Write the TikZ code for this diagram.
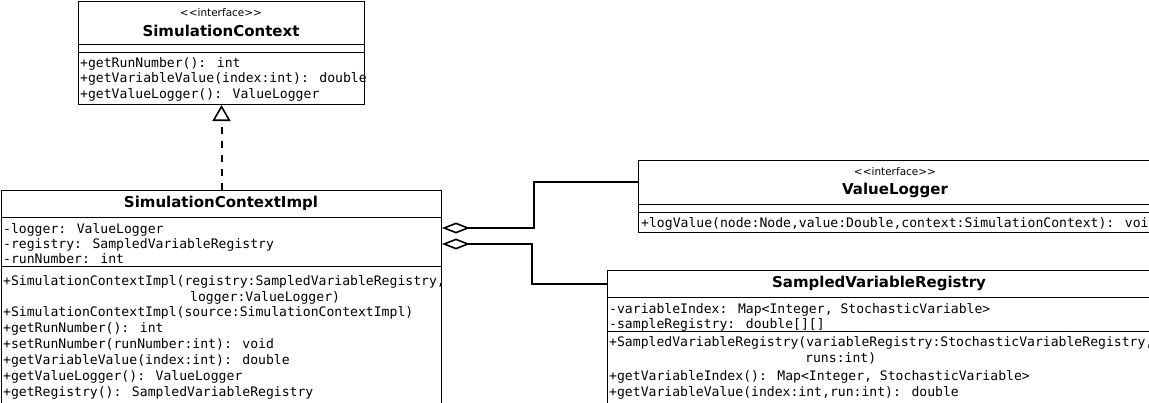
\documentclass[tikz,border=0pt]{standalone}
\usepackage{fontspec}
\setmainfont{DejaVu Sans}
\newfontfamily\monof{DejaVu Sans Mono}
\usetikzlibrary{arrows.meta,calc}
\tikzset{
  classbox/.style={draw=black,line width=1pt,fill=white,inner sep=0pt,anchor=north west},
  sep/.style={line width=1pt},
  mtxt/.style={anchor=west,inner sep=0pt,font=\monof\fontsize{13.1}{15.6}\selectfont,text height=10pt,text depth=3pt},
  stereo/.style={inner sep=0pt,font=\fontsize{10.5}{12}\selectfont},
  ctitle/.style={inner sep=0pt,font=\bfseries\fontsize{15}{18}\selectfont},
  real/.style={line width=2pt,dash pattern=on 7pt off 7pt,-{Triangle[open,length=16pt,width=18pt,line width=1.6pt]}},
  agg/.style={line width=2pt,{Diamond[open,length=28pt,width=11pt,line width=1.6pt]}-},
}
\begin{document}
\begin{tikzpicture}[x=1pt,y=-1pt]
\useasboundingbox (0,0) rectangle (1149,402);
\clip (0,0) rectangle (1149,402);
% SimulationContext
\node[classbox,minimum width=286pt,minimum height=103pt] (sc) at (78,1) {};
\draw[sep] (78,44) -- (364,44);
\draw[sep] (78,52) -- (364,52);
\node[stereo] (sc-st) at (221,13) {{<}{<}interface{>}{>}};
\node[ctitle] (sc-t) at (221,31) {SimulationContext};
\node[mtxt] (sc-m1) at (80,63.5) {+getRunNumber(): int};
\node[mtxt] (sc-m2) at (80,79) {+getVariableValue(index:int): double};
\node[mtxt] (sc-m3) at (80,94.5) {+getValueLogger(): ValueLogger};
% SimulationContextImpl
\node[classbox,minimum width=440pt,minimum height=220pt] (sci) at (1,190) {};
\draw[sep] (1,217) -- (441,217);
\draw[sep] (1,266) -- (441,266);
\node[ctitle] (sci-t) at (221,203.5) {SimulationContextImpl};
\node[mtxt] (sci-a1) at (3,229.5) {-logger: ValueLogger};
\node[mtxt] (sci-a2) at (3,245) {-registry: SampledVariableRegistry};
\node[mtxt] (sci-a3) at (3,260) {-runNumber: int};
\node[mtxt] (sci-m1) at (3,281.5) {+SimulationContextImpl(registry:SampledVariableRegistry,};
\node[mtxt] (sci-m1b) at (190,297.5) {logger:ValueLogger)};
\node[mtxt] (sci-m2) at (3,313) {+SimulationContextImpl(source:SimulationContextImpl)};
\node[mtxt] (sci-m3) at (3,328.5) {+getRunNumber(): int};
\node[mtxt] (sci-m4) at (3,344.5) {+setRunNumber(runNumber:int): void};
\node[mtxt] (sci-m5) at (3,360.5) {+getVariableValue(index:int): double};
\node[mtxt] (sci-m6) at (3,376.5) {+getValueLogger(): ValueLogger};
\node[mtxt] (sci-m7) at (3,392.5) {+getRegistry(): SampledVariableRegistry};
% ValueLogger
\node[classbox,minimum width=514pt,minimum height=72pt] (vl) at (638,160) {};
\draw[sep] (638,204) -- (1152,204);
\draw[sep] (638,212) -- (1152,212);
\node[stereo] (vl-st) at (895,172) {{<}{<}interface{>}{>}};
\node[ctitle] (vl-t) at (895,190) {ValueLogger};
\node[mtxt] (vl-m1) at (641,223.5) {+logValue(node:Node,value:Double,context:SimulationContext): void};
% SampledVariableRegistry
\node[classbox,minimum width=545pt,minimum height=140pt] (svr) at (607,270) {};
\draw[sep] (607,297) -- (1152,297);
\draw[sep] (607,331) -- (1152,331);
\node[ctitle] (svr-t) at (879,283.5) {SampledVariableRegistry};
\node[mtxt] (svr-a1) at (609,309.5) {-variableIndex: Map<Integer, StochasticVariable>};
\node[mtxt] (svr-a2) at (609,324.5) {-sampleRegistry: double[][]};
\node[mtxt] (svr-m1) at (609,342.5) {+SampledVariableRegistry(variableRegistry:StochasticVariableRegistry,};
\node[mtxt] (svr-m1b) at (805,358.5) {runs:int)};
\node[mtxt] (svr-m2) at (609,376.5) {+getVariableIndex(): Map<Integer, StochasticVariable>};
\node[mtxt] (svr-m3) at (609,392.5) {+getVariableValue(index:int,run:int): double};
% connectors
\draw[real] (sci.north) -- (sc.south);
\draw[agg] ([yshift=-38pt]sci.north east) -- ++(92,0) |- ([yshift=-22pt]vl.north west);
\draw[agg] ([yshift=-54pt]sci.north east) -- ++(90,0) |- ([yshift=-14pt]svr.north west);
\end{tikzpicture}
\end{document}
